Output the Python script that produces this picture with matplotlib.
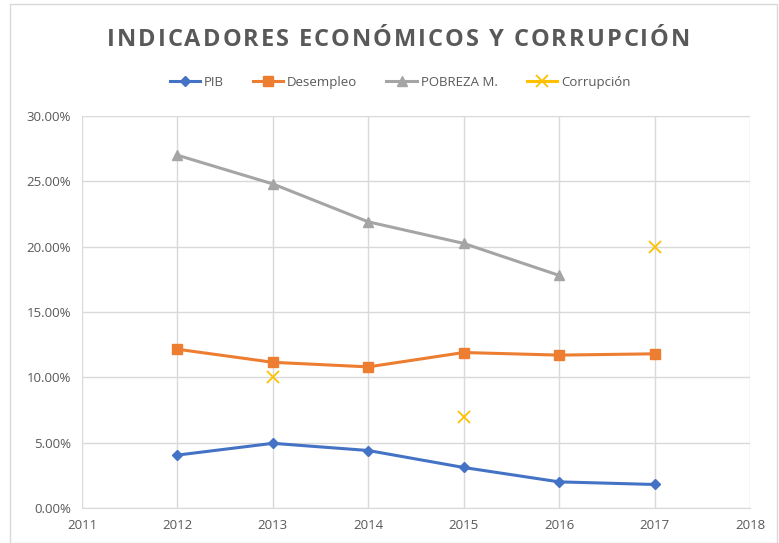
import matplotlib
matplotlib.use("Agg")
import matplotlib.pyplot as plt
from matplotlib.ticker import FuncFormatter, MultipleLocator
from matplotlib.patches import Rectangle
from matplotlib.lines import Line2D

years = [2012, 2013, 2014, 2015, 2016, 2017]
pib = [4.05, 4.95, 4.40, 3.10, 2.00, 1.80]
desempleo = [12.15, 11.15, 10.80, 11.90, 11.70, 11.80]
pobreza_years = [2012, 2013, 2014, 2015, 2016]
pobreza = [27.0, 24.8, 21.9, 20.25, 17.8]
corrupcion_years = [2013, 2015, 2017]
corrupcion = [10.0, 7.0, 20.0]

title = "INDICADORES ECONÓMICOS Y CORRUPCIÓN"
labels = ["PIB", "Desempleo", "POBREZA M.", "Corrupción"]

plt.rcParams['font.family'] = ['Open Sans', 'DejaVu Sans']

fig = plt.figure(figsize=(7.79, 5.43), dpi=100)
W, H = 779, 543
ax = fig.add_axes([82 / W, 1 - 508 / H, (750 - 82) / W, (508 - 116) / H])

l1, = ax.plot(years, pib, color="#4472C4", marker="D", markersize=5.5, linewidth=2.2, label=labels[0], zorder=3)
l2, = ax.plot(years, desempleo, color="#ED7D31", marker="s", markersize=6.5, linewidth=2.2, label=labels[1], zorder=3)
l3, = ax.plot(pobreza_years, pobreza, color="#A5A5A5", marker="^", markersize=7.5, linewidth=2.2, label=labels[2], zorder=3)
ax.plot(corrupcion_years, corrupcion, color="#FFC000", marker="x", markersize=8, markeredgewidth=1.3,
        linestyle="none", label=labels[3], zorder=3)
h4 = Line2D([], [], color="#FFC000", marker="x", markersize=8, markeredgewidth=1.3, linewidth=2.2)

ax.set_xlim(2011, 2018)
ax.set_ylim(0, 30)
ax.xaxis.set_major_locator(MultipleLocator(1))
ax.yaxis.set_major_locator(MultipleLocator(5))
ax.yaxis.set_major_formatter(FuncFormatter(lambda v, p: f"{v:.2f}%"))
ax.grid(True, color="#D9D9D9", linewidth=1)
ax.set_axisbelow(True)
for s in ["top", "right", "left"]:
    ax.spines[s].set_visible(False)
ax.spines["bottom"].set_color("#D9D9D9")
ax.tick_params(length=0, labelsize=9.5, colors="#595959", pad=8)

# Title with letter spacing (drawn char by char)
renderer = fig.canvas.get_renderer()
fs = 17
title_kw = dict(fontsize=fs, fontweight="bold", color="#595959", va="center", ha="left")


def measure(s):
    t = fig.text(0, 0, s, **title_kw)
    w = t.get_window_extent(renderer).width
    t.remove()
    return w


space_w = measure("A A") - measure("AA")
widths = [space_w if ch == " " else measure(ch) for ch in title]
target_w = 583
spacing = (target_w - sum(widths)) / (len(title) - 1)
x = 107
for ch, w in zip(title, widths):
    if ch != " ":
        fig.text(x / W, 1 - 40 / H, ch, **title_kw)
    x += w + spacing

leg = fig.legend([l1, l2, l3, h4], labels, loc="center", bbox_to_anchor=(400 / W, 1 - 82 / H), ncol=4,
                 frameon=False, fontsize=9.5, handlelength=2.3, columnspacing=2.2, handletextpad=0.3)
for t in leg.get_texts():
    t.set_color("#595959")

fig.patches.append(Rectangle((10 / W, 0), 1 - 12 / W, 1 - 4 / H, transform=fig.transFigure,
                             fill=False, edgecolor="#D9D9D9", linewidth=1))

fig.savefig("out.png", dpi=100, facecolor="white")
